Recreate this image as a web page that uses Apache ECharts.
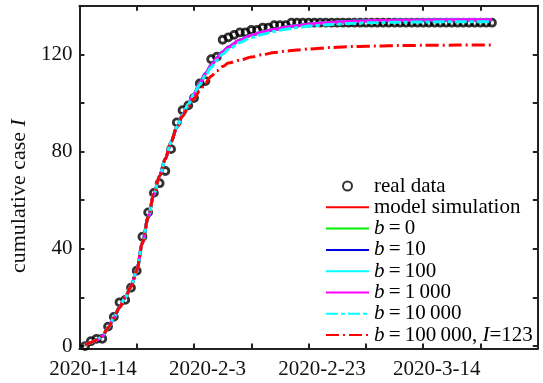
<!DOCTYPE html>
<html><head><meta charset="utf-8">
<script src="https://cdn.jsdelivr.net/npm/echarts@6/dist/echarts.min.js"></script>
<style>html,body{margin:0;padding:0;background:#fff}#c{width:543px;height:383px}</style>
</head><body><div id="c"></div>
<script>
// x axis: days after 2020-1-14
const xTickDays = [0, 20, 40, 60];
const xTickLabels = ['2020-1-14', '2020-2-3', '2020-2-23', '2020-3-14'];
const yLabelValues = [0, 40, 80, 120];
const yTickValues = [0, 20, 40, 60, 80, 100, 120, 140];

// real data, one value per day starting at day 1 (2020-1-15)
const realStartDay = 1;
const realData = [0,2,3,3,8,12,18,19,24,31,45,55,63,67,72,81,92,97,99,102,108,109,118,119,126,127,128,129,129,130,130,131,131,132,132,132,133,133,
  133,133,133,133,133,133,133,133,133,133,133,133,133,133,133,133,133,133,133,133,133,133,133,133,133,133,133,133,133,133,133,133,133,133];

// sampled days for model curves
const modelDays = [1,2,3,4,5,6,7,8,9,10,11,12,13,14,15,16,17,18,19,20,21,22,23,24,25,26,28,30,32,34,36,38,40,44,48,52,56,60,66,72];
const modelSim = [0.5,1.5,2.5,4,7.5,11.5,16,20,24.5,31,42.5,53,62.5,70,77,84,90,95,99.5,103.5,108,112,115.5,118.5,121,123,125.8,127.8,129.2,130.2,131.1,131.8,132.4,133.1,133.6,133.9,134,134.1,134.2,134.2];
const b0 = [0.5,1.5,2.5,4,7.5,11.5,16,20,24.5,31,42.5,53,62.5,70,77,84,90,95,99.5,103.5,108,112,115.5,118.5,121,123,125.8,127.8,129.2,130.2,131.1,131.8,132.4,133.1,133.6,133.9,134,134.1,134.2,134.2];
const b10 = [0.5,1.5,2.5,4,7.5,11.5,16,20,24.5,31,42.5,53,62.5,70,77,84,90,95,99.5,103.5,108,112,115.5,118.5,121,123,125.8,127.8,129.2,130.2,131.1,131.8,132.4,133.1,133.6,133.9,134,134.1,134.2,134.2];
const b100 = [0.5,1.5,2.5,4,7.5,11.5,16,20,24.5,31,42.5,53,62.5,70,77,84,90,95,99.5,103.5,108,112,115.5,118.5,121,123,125.8,127.8,129.2,130.2,131.1,131.8,132.4,133.1,133.6,133.9,134,134.1,134.2,134.2];
const b1000 = [0.5,1.5,2.5,4,7.5,11.5,16,20,24.5,31,42.5,53,62.5,70,77,84,90,95,99.5,103.5,108,112,115.5,118.5,121,123,125.8,127.8,129.2,130.2,131.1,131.8,132.4,133.1,133.6,133.9,134,134.1,134.2,134.2];
const b10000 = [0.5,1.5,2.5,4,7.5,11.5,16,20,24.5,31,42.5,53,62.5,70,77,84,90,95,99.5,103.5,107.5,111.3,114.7,117.6,120,122,124.9,126.9,128.3,129.4,130.3,131,131.6,132.3,132.8,133.1,133.2,133.3,133.4,133.4];
const b100000 = [0.5,1.5,2.5,4,7.5,11.5,16,20,24.5,31,42.5,53,62.5,70,77,84,90,94.5,98.5,101.8,105,108.2,111,113.2,115,116.4,117.6,118.9,119.9,120.7,121.3,121.8,122.2,122.8,123.2,123.4,123.6,123.7,123.8,123.8];

const seriesNames = ['real data', 'model simulation', 'b\u2009=\u20090', 'b\u2009=\u200910', 'b\u2009=\u2009100',
  'b\u2009=\u20091\u2009000', 'b\u2009=\u200910\u2009000', 'b\u2009=\u2009100\u2009000, I=123'];

const FONT = 'Liberation Serif';
const pairs = (days, vals) => vals.map((v, i) => [days[i], v]);
const realPairs = realData.map((v, i) => [realStartDay + i, v]);

function lineSeries(name, vals, color, type) {
  return {
    type: 'line', name: name, data: pairs(modelDays, vals), symbol: 'none',
    smooth: 0.3, smoothMonotone: 'x',
    lineStyle: { color: color, width: 3, type: type || 'solid' },
    itemStyle: { color: color }
  };
}

const legendData = seriesNames.map((n, i) => i === 0 ? { name: n } : { name: n, itemStyle: { opacity: 0 } });

const axisLineStyle = { color: '#222', width: 2 };
const chart = echarts.init(document.getElementById('c'), null, { renderer: 'canvas' });
chart.setOption({
  animation: false,
  backgroundColor: '#fff',
  textStyle: { fontFamily: FONT },
  grid: { left: 72.5, right: 5.2, top: 5.7, bottom: 34.5 },
  xAxis: [
    {
      type: 'value', min: 0, max: 80, interval: 10, position: 'bottom',
      axisLine: { show: true, onZero: false, lineStyle: axisLineStyle },
      axisTick: { show: true, inside: true, length: 5, lineStyle: axisLineStyle },
      axisLabel: {
        customValues: xTickDays,
        formatter: function (v) { const k = xTickDays.indexOf(v); return k >= 0 ? xTickLabels[k] : ''; },
        fontFamily: FONT, fontSize: 21, color: '#111', margin: 10, padding: [0, 0, 0, 27]
      },
      splitLine: { show: false }
    },
    {
      type: 'value', min: 0, max: 80, interval: 10, position: 'top',
      axisLine: { show: true, onZero: false, lineStyle: axisLineStyle },
      axisTick: { show: true, inside: true, length: 5, lineStyle: axisLineStyle },
      axisLabel: { show: false }, splitLine: { show: false }
    }
  ],
  yAxis: [
    {
      type: 'value', min: -1, max: 140, position: 'left',
      axisLine: { show: true, onZero: false, lineStyle: axisLineStyle },
      axisTick: { show: true, inside: true, length: 5, customValues: yTickValues, lineStyle: axisLineStyle },
      axisLabel: { customValues: yLabelValues, fontFamily: FONT, fontSize: 21, color: '#111', margin: 7 },
      splitLine: { show: false },
      name: 'cumulative case {i|I}', nameLocation: 'middle', nameGap: 42,
      nameTextStyle: {
        fontFamily: FONT, fontSize: 22, color: '#111', padding: [0, 38, 0, 0],
        rich: { i: { fontFamily: FONT, fontSize: 22, fontStyle: 'italic', color: '#111' } }
      }
    },
    {
      type: 'value', min: -1, max: 140, position: 'right',
      axisLine: { show: true, onZero: false, lineStyle: axisLineStyle },
      axisTick: { show: true, inside: true, length: 5, customValues: yTickValues, lineStyle: axisLineStyle },
      axisLabel: { show: false }, splitLine: { show: false }
    }
  ],
  legend: {
    orient: 'vertical', left: 325, top: 175.5, padding: 0, itemGap: 0.3,
    itemWidth: 43, itemHeight: 9, data: legendData,
    textStyle: {
      fontFamily: FONT, fontSize: 21, color: '#000', lineHeight: 21,
      rich: { i: { fontFamily: FONT, fontSize: 21, fontStyle: 'italic', color: '#000', lineHeight: 21 } }
    },
    formatter: function (name) { return name.replace(/^b/, '{i|b}').replace('I=', '{i|I}='); }
  },
  series: [
    {
      type: 'scatter', name: seriesNames[0], data: realPairs, symbol: 'circle', symbolSize: 7,
      itemStyle: { color: 'rgba(0,0,0,0)', borderColor: '#000', borderWidth: 2.8 }
    },
    lineSeries(seriesNames[1], modelSim, '#ff0000'),
    lineSeries(seriesNames[2], b0, '#00ee00'),
    lineSeries(seriesNames[3], b10, '#0000e0'),
    lineSeries(seriesNames[4], b100, '#00ffff'),
    lineSeries(seriesNames[5], b1000, '#ff00ff'),
    lineSeries(seriesNames[6], b10000, '#00ffff', [12, 3, 4, 3]),
    lineSeries(seriesNames[7], b100000, '#ff0000', [13, 4, 2, 4])
  ]
});
</script></body></html>
